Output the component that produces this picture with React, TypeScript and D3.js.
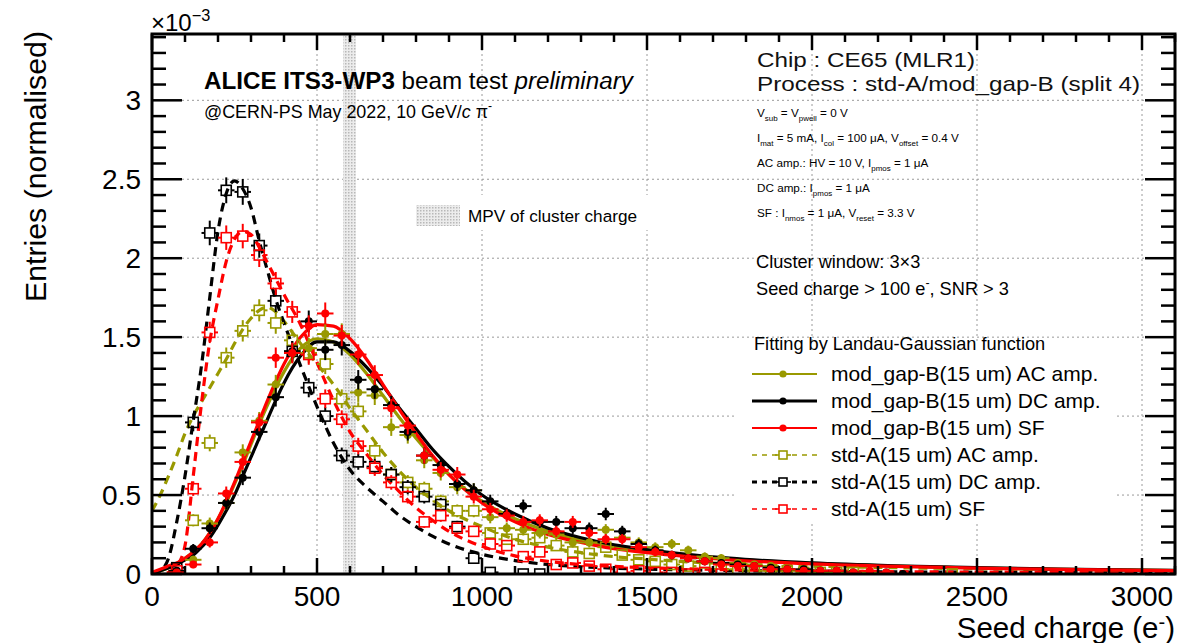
import React from 'react';
import * as d3 from 'd3';

const W = 1199;
const H = 643;

// bin centres (e-)
const binX = [75, 125, 175, 225, 275, 325, 375, 425, 475, 525, 575, 625, 675, 725, 775, 825, 875, 925, 975, 1025,
  1075, 1125, 1175, 1225, 1275, 1325, 1375, 1425, 1475, 1525, 1575, 1625, 1675, 1725, 1775, 1825, 1875, 1925, 1975, 2025,
  2075, 2125, 2175, 2225, 2275, 2325, 2375, 2425];

// data points (x10^-3)
const modB_AC = [0.01, 0.09, 0.32, 0.45, 0.77, 0.97, 1.20, 1.40, 1.43, 1.52, 1.52, 1.15, 1.13, 0.93, 0.88, 0.72, 0.64, 0.55, 0.53, 0.36,
  0.29, 0.28, 0.26, 0.25, 0.20, 0.20, 0.28, 0.23, 0.20, 0.17, 0.19, 0.15, 0.11, 0.10, 0.07, 0.06, 0.05, 0.03, 0.02, 0.01,
  0.01, 0.01, 0.01, null, null, null, null, null];
const modB_DC = [0.02, 0.16, 0.29, 0.45, 0.61, 0.90, 1.12, 1.41, 1.60, 1.42, 1.45, 1.23, 1.17, 1.07, 0.90, 0.75, 0.69, 0.57, 0.53, 0.46,
  0.38, 0.43, 0.33, 0.33, 0.29, 0.29, 0.38, 0.27, 0.19, 0.15, 0.12, 0.10, 0.08, 0.07, 0.06, 0.05, 0.04, 0.03, 0.03, 0.02,
  0.02, 0.01, 0.0, 0.01, 0.0, null, null, null];
const modB_SF = [0.01, 0.06, 0.20, 0.51, 0.71, 0.96, 1.37, 1.40, 1.57, 1.65, 1.51, 1.39, 1.26, 1.05, 0.94, 0.75, 0.66, 0.63, 0.49, 0.41,
  0.37, 0.33, 0.34, 0.27, 0.33, 0.26, 0.22, 0.22, 0.17, 0.14, 0.12, 0.10, 0.08, 0.06, 0.05, 0.05, 0.03, 0.03, 0.02, 0.02,
  0.02, 0.01, 0.02, 0.01, null, null, null, null];
const stdA_AC = [null, 0.34, 0.83, 1.37, 1.54, 1.67, 1.59, 1.48, 1.40, 1.33, 1.11, 1.03, 0.78, 0.63, 0.58, 0.54, 0.46, 0.40, 0.40, 0.26,
  0.22, 0.22, 0.23, 0.18, 0.14, 0.13, 0.17, 0.12, 0.09, 0.08, 0.06, 0.05, 0.07, 0.03, 0.03, 0.02, 0.02, 0.02, 0.01, 0.01,
  0.01, 0.01, null, null, null, null, null, 0.0];
const stdA_DC = [0.04, 0.96, 2.16, 2.43, 2.42, 2.08, 1.73, 1.41, 1.18, 1.00, 0.75, 0.71, 0.68, 0.63, 0.55, 0.49, 0.44, 0.30, 0.10, 0.01,
  null, 0.0, 0.0, null, null, null, null, null, null, null, null, null, null, null, null, null, null, null, null, null,
  null, null, null, null, null, null, null, null];
const stdA_SF = [0.02, 0.54, 1.53, 2.13, 2.14, 2.02, 1.84, 1.66, 1.39, 1.11, 0.98, 0.81, 0.67, 0.58, 0.49, 0.33, 0.37, 0.29, 0.27, 0.19,
  0.18, 0.11, 0.14, 0.06, 0.07, 0.05, 0.03, 0.01, 0.02, 0.01, 0.01, 0.0, 0.01, 0.0, null, null, null, null, null, null,
  null, null, null, null, null, null, null, null];

// Landau-Gaussian fit curves
const fitX = [0, 25, 50, 75, 100, 125, 150, 175, 200, 225, 250, 275, 300, 325, 350, 375, 400, 450, 500, 550,
  600, 650, 700, 750, 800, 850, 900, 1000, 1100, 1200, 1300, 1400, 1500, 1600, 1750, 2000, 2250, 2500, 2750, 3000, 3100];
const fit_modB_AC = [0.005, 0.02, 0.04, 0.065, 0.10, 0.14, 0.19, 0.26, 0.35, 0.45, 0.57, 0.69, 0.82, 0.95, 1.07, 1.18, 1.28, 1.43, 1.49, 1.47,
  1.39, 1.27, 1.13, 0.99, 0.86, 0.74, 0.63, 0.46, 0.35, 0.27, 0.215, 0.175, 0.145, 0.12, 0.095, 0.067, 0.05, 0.038, 0.03, 0.024, 0.022];
const fit_modB_DC = [0.005, 0.02, 0.04, 0.06, 0.09, 0.12, 0.17, 0.23, 0.31, 0.40, 0.50, 0.62, 0.74, 0.86, 0.98, 1.10, 1.21, 1.38, 1.47, 1.47,
  1.41, 1.31, 1.19, 1.05, 0.92, 0.79, 0.68, 0.50, 0.38, 0.29, 0.23, 0.185, 0.155, 0.13, 0.10, 0.07, 0.052, 0.04, 0.031, 0.025, 0.023];
const fit_modB_SF = [0.01, 0.03, 0.05, 0.07, 0.10, 0.14, 0.19, 0.26, 0.35, 0.46, 0.58, 0.71, 0.84, 0.97, 1.10, 1.22, 1.33, 1.50, 1.58, 1.57,
  1.49, 1.36, 1.20, 1.04, 0.89, 0.75, 0.63, 0.45, 0.33, 0.25, 0.20, 0.16, 0.135, 0.115, 0.09, 0.064, 0.048, 0.037, 0.029, 0.023, 0.021];
const fit_stdA_AC = [0.40, 0.50, 0.62, 0.75, 0.89, 1.00, 1.09, 1.18, 1.27, 1.36, 1.46, 1.55, 1.62, 1.67, 1.69, 1.66, 1.60, 1.46, 1.33, 1.20,
  1.05, 0.91, 0.77, 0.65, 0.55, 0.47, 0.40, 0.30, 0.22, 0.17, 0.135, 0.11, 0.095, 0.08, 0.065, 0.05, 0.04, 0.033, 0.027, 0.022, 0.02];
const fit_stdA_DC = [0.0, 0.02, 0.10, 0.33, 0.62, 0.97, 1.32, 1.75, 2.17, 2.41, 2.49, 2.44, 2.32, 2.11, 1.92, 1.74, 1.59, 1.32, 1.06, 0.83,
  0.66, 0.55, 0.46, 0.37, 0.30, 0.24, 0.19, 0.125, 0.085, 0.06, 0.046, 0.037, 0.031, 0.027, 0.022, 0.017, 0.013, 0.011, 0.009, 0.008, 0.007];
const fit_stdA_SF = [0.0, 0.0, 0.01, 0.05, 0.18, 0.62, 1.08, 1.47, 1.74, 1.98, 2.12, 2.17, 2.15, 2.07, 1.97, 1.87, 1.77, 1.58, 1.34, 1.10,
  0.90, 0.76, 0.63, 0.52, 0.42, 0.34, 0.27, 0.175, 0.115, 0.08, 0.06, 0.048, 0.04, 0.034, 0.027, 0.02, 0.015, 0.012, 0.01, 0.008, 0.007];

const seriesNames = [
  'mod_gap-B(15 um) AC amp.',
  'mod_gap-B(15 um) DC amp.',
  'mod_gap-B(15 um) SF',
  'std-A(15 um) AC amp.',
  'std-A(15 um) DC amp.',
  'std-A(15 um) SF',
];

const xTickLabels = ['0', '500', '1000', '1500', '2000', '2500', '3000'];
const yTickLabels = ['0', '0.5', '1', '1.5', '2', '2.5', '3'];
const mpvRange = [579, 618];

const OLIVE = '#999900';
const RED = '#ff0000';
const BLACK = '#000000';

const FONT = '"Liberation Sans", Arial, Helvetica, sans-serif';

type Seg = { t: string; sub?: boolean; sup?: boolean; i?: boolean; b?: boolean };

function RichText({ x, y, size, segs, anchor, supRaise }: { x: number; y: number; size: number; segs: Seg[]; anchor?: string; supRaise?: number }) {
  let cur = 0;
  const out: React.ReactNode[] = [];
  segs.forEach((s, k) => {
    const target = s.sub ? size * 0.3 : s.sup ? -size * (supRaise ?? 0.42) : 0;
    const dy = target - cur;
    cur = target;
    out.push(
      <tspan key={k} dy={dy} fontSize={s.sub || s.sup ? size * 0.68 : size}
        fontStyle={s.i ? 'italic' : 'normal'} fontWeight={s.b ? 'bold' : 'normal'}>{s.t}</tspan>
    );
  });
  return (
    <text x={x} y={y} fontFamily={FONT} fontSize={size} textAnchor={anchor || 'start'} fill="#000">{out}</text>
  );
}

export default function App() {
  const x = d3.scaleLinear().domain([0, 3100]).range([152, 1175]);
  const y = d3.scaleLinear().domain([0, 3.42]).range([574, 34]);
  const [x0, x1] = x.range();
  const [y0, y1] = y.range();

  const series = [
    { ys: stdA_AC, fit: fit_stdA_AC, color: OLIVE, filled: false },
    { ys: stdA_DC, fit: fit_stdA_DC, color: BLACK, filled: false },
    { ys: stdA_SF, fit: fit_stdA_SF, color: RED, filled: false },
    { ys: modB_AC, fit: fit_modB_AC, color: OLIVE, filled: true },
    { ys: modB_DC, fit: fit_modB_DC, color: BLACK, filled: true },
    { ys: modB_SF, fit: fit_modB_SF, color: RED, filled: true },
  ];

  const line = d3.line<[number, number]>()
    .x(d => x(d[0]))
    .y(d => y(d[1]))
    .curve(d3.curveMonotoneX);

  const xMajor = d3.range(0, 3001, 500);
  const xMinor = d3.range(0, 3101, 100).filter(v => v % 500 !== 0);
  const yMajor = d3.range(0, 7).map(i => i * 0.5);
  const yMinor = d3.range(0, 35).map(i => i / 10).filter(v => Math.round(v * 10) % 5 !== 0);

  const halfBin = 25;
  const errOf = (v: number) => 0.055 * Math.sqrt(Math.max(v, 0) / 1.5) + 0.012;

  const renderPoints = (s: typeof series[number], si: number) => {
    const els: React.ReactNode[] = [];
    s.ys.forEach((v, i) => {
      if (v === null || v === undefined) return;
      const cx = x(binX[i]);
      const cy = y(v);
      const e = errOf(v);
      const hx = x(binX[i] + halfBin) - cx;
      const top = y(v + e);
      const bot = y(Math.max(v - e, 0));
      const m = s.filled ? 0 : 5;
      els.push(
        <g key={`${si}-${i}`} stroke={s.color} strokeWidth={2}>
          <line x1={cx - hx} x2={cx - m} y1={cy} y2={cy} />
          <line x1={cx + m} x2={cx + hx} y1={cy} y2={cy} />
          {top < cy - m && <line x1={cx} x2={cx} y1={top} y2={cy - m} />}
          {bot > cy + m && <line x1={cx} x2={cx} y1={cy + m} y2={bot} />}
          {s.filled
            ? <circle cx={cx} cy={cy} r={4} fill={s.color} stroke="none" />
            : <rect x={cx - 5} y={cy - 5} width={10} height={10} fill="none" strokeWidth={1.6} />}
        </g>
      );
    });
    return els;
  };

  const legendRows = [374, 401, 428, 455, 482, 509];
  const legendStyle = [
    { color: OLIVE, filled: true, w: 2 },
    { color: BLACK, filled: true, w: 3 },
    { color: RED, filled: true, w: 2 },
    { color: OLIVE, filled: false, w: 1.5 },
    { color: BLACK, filled: false, w: 3 },
    { color: RED, filled: false, w: 1.5 },
  ];

  const smallLines: Seg[][] = [
    [{ t: 'V' }, { t: 'sub', sub: true }, { t: ' = V' }, { t: 'pwell', sub: true }, { t: ' = 0 V' }],
    [{ t: 'I' }, { t: 'mat', sub: true }, { t: ' = 5 mA, I' }, { t: 'col', sub: true }, { t: ' = 100 \u03BCA, V' }, { t: 'offset', sub: true }, { t: ' = 0.4 V' }],
    [{ t: 'AC amp.: HV = 10 V, I' }, { t: 'pmos', sub: true }, { t: ' = 1 \u03BCA' }],
    [{ t: 'DC amp.: I' }, { t: 'pmos', sub: true }, { t: ' = 1 \u03BCA' }],
    [{ t: 'SF : I' }, { t: 'nmos', sub: true }, { t: ' = 1 \u03BCA, V' }, { t: 'reset', sub: true }, { t: ' = 3.3 V' }],
  ];
  const smallY = [117, 142, 167, 192, 217];

  return (
    <svg width={W} height={H} viewBox={`0 0 ${W} ${H}`}
      style={{ position: 'absolute', left: 0, top: 0, background: '#fff' }}>
      <defs>
        <clipPath id="plotClip">
          <rect x={x0} y={y1} width={x1 - x0} height={y0 - y1} />
        </clipPath>
        <pattern id="dots" width={3} height={3} patternUnits="userSpaceOnUse">
          <rect width={3} height={3} fill="#ececec" />
          <rect width={1.5} height={1.5} fill="#b8b8b8" />
        </pattern>
      </defs>
      <rect x={0} y={0} width={W} height={H} fill="#fff" />

      {/* grid */}
      <g stroke="#9a9a9a" strokeWidth={1} strokeDasharray="2,3">
        {xMajor.filter(v => v > 0).map(v => (
          <line key={`gx${v}`} x1={x(v)} x2={x(v)} y1={y1} y2={y0} />
        ))}
        {yMajor.filter(v => v > 0).map(v => (
          <line key={`gy${v}`} x1={x0} x2={x1} y1={y(v)} y2={y(v)} />
        ))}
      </g>

      {/* MPV band */}
      <rect x={x(mpvRange[0])} y={y1} width={x(mpvRange[1]) - x(mpvRange[0])} height={y0 - y1} fill="url(#dots)" />

      {/* white boxes behind legends */}
      <rect x={405} y={195} width={255} height={35} fill="#fff" />
      <rect x={736} y={341} width={380} height={183} fill="#fff" />

      {/* data */}
      <g clipPath="url(#plotClip)">
        {series.map((s, si) => (
          <path key={`f${si}`}
            d={line(fitX.map((fx, k) => [fx, s.fit[k]] as [number, number])) || ''}
            fill="none" stroke={s.color} strokeWidth={3.2}
            strokeDasharray={s.filled ? undefined : '9,6'} />
        ))}
        {series.map((s, si) => renderPoints(s, si))}
      </g>

      {/* frame */}
      <rect x={x0} y={y1} width={x1 - x0} height={y0 - y1} fill="none" stroke="#000" strokeWidth={3} />

      {/* ticks */}
      <g stroke="#000" strokeWidth={2.5}>
        {xMajor.map(v => (
          <g key={`xt${v}`}>
            <line x1={x(v)} x2={x(v)} y1={y0} y2={y0 - 16} />
            <line x1={x(v)} x2={x(v)} y1={y1} y2={y1 + 16} />
          </g>
        ))}
        {xMinor.map(v => (
          <g key={`xm${v}`}>
            <line x1={x(v)} x2={x(v)} y1={y0} y2={y0 - 8} />
            <line x1={x(v)} x2={x(v)} y1={y1} y2={y1 + 8} />
          </g>
        ))}
        {yMajor.map(v => (
          <g key={`yt${v}`}>
            <line x1={x0} x2={x0 + 30} y1={y(v)} y2={y(v)} />
            <line x1={x1} x2={x1 - 30} y1={y(v)} y2={y(v)} />
          </g>
        ))}
        {yMinor.map(v => (
          <g key={`ym${v}`}>
            <line x1={x0} x2={x0 + 14} y1={y(v)} y2={y(v)} />
            <line x1={x1} x2={x1 - 14} y1={y(v)} y2={y(v)} />
          </g>
        ))}
      </g>

      {/* tick labels */}
      <g fontFamily={FONT} fontSize={28} fill="#000">
        {xMajor.map((v, i) => (
          <text key={`xl${v}`} x={x(v)} y={606} textAnchor="middle">{xTickLabels[i]}</text>
        ))}
        {yMajor.map((v, i) => (
          <text key={`yl${v}`} x={141} y={y(v) + 10} textAnchor="end">{yTickLabels[i]}</text>
        ))}
      </g>

      {/* axis titles */}
      <RichText x={1175} y={638} size={29.5} anchor="end" supRaise={0.3}
        segs={[{ t: 'Seed charge (e' }, { t: '-', sup: true }, { t: ')' }]} />
      <text transform="translate(46,31) rotate(-90)" textAnchor="end" fontFamily={FONT} fontSize={30.3}>Entries (normalised)</text>
      <RichText x={151} y={31} size={24} segs={[{ t: '\u00D710' }, { t: '\u22123', sup: true }]} />

      {/* header */}
      <RichText x={204} y={89} size={24.2} segs={[{ t: 'ALICE ITS3-WP3', b: true }, { t: ' beam test ' }, { t: 'preliminary', i: true }]} />
      <RichText x={204} y={118} size={17.9} segs={[{ t: '@CERN-PS May 2022, 10 GeV/' }, { t: 'c', i: true }, { t: ' \u03C0' }, { t: '-', sup: true }]} />

      {/* MPV legend */}
      <rect x={416} y={205} width={44} height={21} fill="url(#dots)" />
      <text x={468} y={222} fontFamily={FONT} fontSize={17.2}>MPV of cluster charge</text>

      {/* chip info */}
      <text x={757} y={67} fontFamily={FONT} fontSize={21} fill="#111"
        textLength={218} lengthAdjust="spacingAndGlyphs">Chip : CE65 (MLR1)</text>
      <text x={757} y={91} fontFamily={FONT} fontSize={21} fill="#111"
        textLength={383} lengthAdjust="spacingAndGlyphs">Process : std-A/mod_gap-B (split 4)</text>
      {smallLines.map((segs, i) => (
        <RichText key={`sl${i}`} x={757} y={smallY[i]} size={11.7} segs={segs} />
      ))}
      <text x={756} y={268} fontFamily={FONT} fontSize={18.2}>Cluster window: 3{'\u00D7'}3</text>
      <RichText x={756} y={295} size={18.2} segs={[{ t: 'Seed charge > 100 e' }, { t: '-', sup: true }, { t: ', SNR > 3' }]} />

      {/* legend */}
      <text x={754} y={350} fontFamily={FONT} fontSize={18.2}>Fitting by Landau-Gaussian function</text>
      {legendRows.map((ry, i) => {
        const st = legendStyle[i];
        return (
          <g key={`lg${i}`}>
            <line x1={752} x2={817} y1={ry} y2={ry} stroke={st.color} strokeWidth={st.w}
              strokeDasharray={st.filled ? undefined : '5,5'} />
            {st.filled
              ? <circle cx={783} cy={ry} r={3.6} fill={st.color} />
              : <g stroke={st.color} strokeWidth={1.6}>
                  <line x1={775} x2={791} y1={ry} y2={ry} />
                  <rect x={779} y={ry - 4} width={8} height={8} fill="#fff" />
                </g>}
            <text x={831} y={ry + 7} fontFamily={FONT} fontSize={21}>{seriesNames[i]}</text>
          </g>
        );
      })}
    </svg>
  );
}
